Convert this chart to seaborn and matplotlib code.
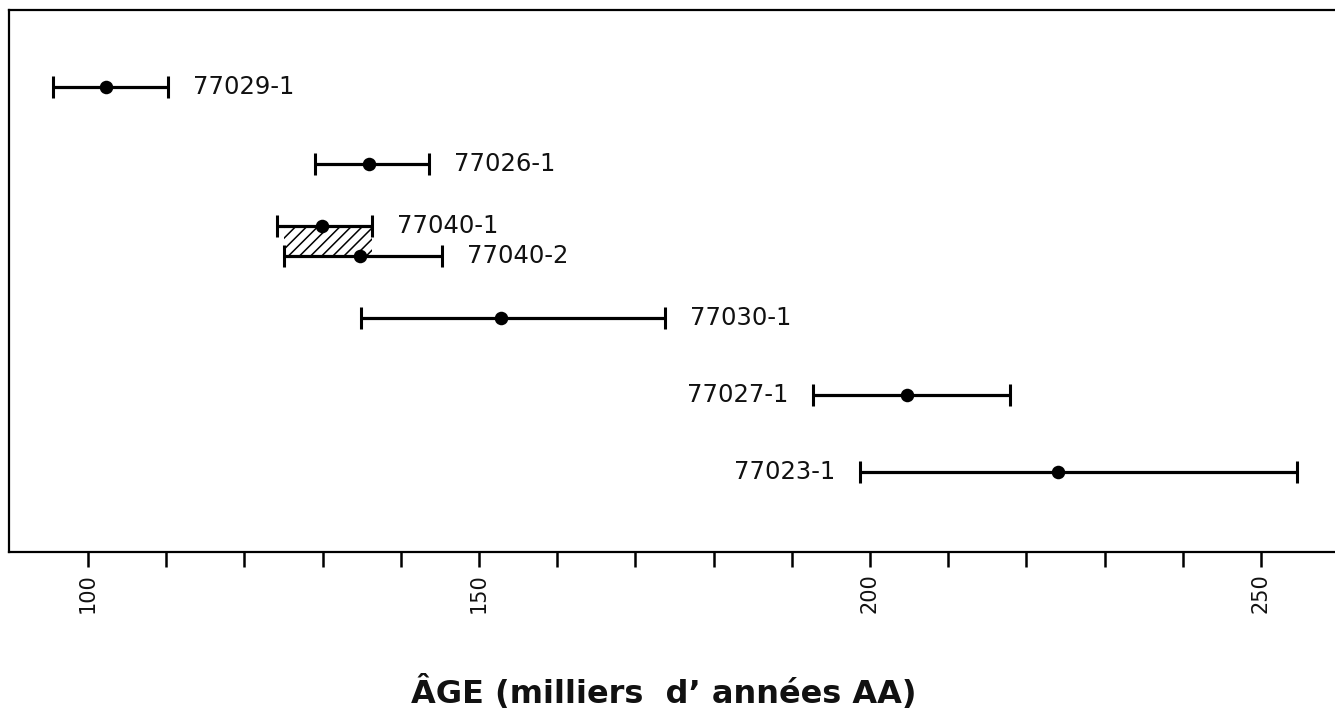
import matplotlib
matplotlib.use("Agg")
import matplotlib.pyplot as plt
import seaborn as sns
import pandas as pd

# ---- data ----
samples = ["77029-1", "77026-1", "77040-1", "77040-2", "77030-1", "77027-1", "77023-1"]
age_center = [102.3, 135.9, 129.9, 134.8, 152.8, 204.7, 224.0]
age_low = [95.5, 129.0, 124.2, 125.1, 134.9, 192.7, 198.7]
age_high = [110.2, 143.6, 136.3, 145.3, 173.8, 217.9, 254.6]
row = [0.0, 1.0, 1.8, 2.2, 3.0, 4.0, 5.0]
label_side = ["right", "right", "right", "right", "right", "left", "left"]
tick_values = list(range(100, 251, 10))
tick_labels = [str(v) if v % 50 == 0 else "" for v in tick_values]
xlabel = "ÂGE (milliers  d’ années AA)"

df = pd.DataFrame({"sample": samples, "center": age_center, "low": age_low,
                   "high": age_high, "row": row, "side": label_side})

sns.set_theme(style="white")
plt.rcParams["font.family"] = ["DejaVu Sans"]
plt.rcParams["hatch.linewidth"] = 1.1

fig = plt.figure(figsize=(13.35, 7.09), dpi=100)
W, H = 1335, 709
left_px, right_px, top_px, bot_px = 9, 1345, 10, 552
ax = fig.add_axes([left_px / W, (H - bot_px) / H, (right_px - left_px) / W, (bot_px - top_px) / H])

# error bars
for _, r in df.iterrows():
    ax.errorbar([r.center], [r.row], xerr=[[r.center - r.low], [r.high - r.center]],
                fmt="none", ecolor="black", elinewidth=2.3, capsize=8, capthick=2.2, zorder=2)

sns.scatterplot(data=df, x="center", y="row", color="black", s=95, edgecolor="black",
                linewidth=0, ax=ax, zorder=3, legend=False)

# hatched overlap of the two 77040 samples
i1, i2 = samples.index("77040-1"), samples.index("77040-2")
ov_lo = max(age_low[i1], age_low[i2])
ov_hi = min(age_high[i1], age_high[i2])
ax.fill_between([ov_lo, ov_hi], row[i1], row[i2], facecolor="none", edgecolor="black",
                hatch="///", linewidth=0, zorder=1)

# labels
for _, r in df.iterrows():
    if r.side == "right":
        ax.annotate(r["sample"], (r.high, r.row), xytext=(18, 0), textcoords="offset points",
                    ha="left", va="center", fontsize=17.5, color="#111111")
    else:
        ax.annotate(r["sample"], (r.low, r.row), xytext=(-18, 0), textcoords="offset points",
                    ha="right", va="center", fontsize=17.5, color="#111111")

# axes
x0 = 100 - (88 - left_px) / 7.82
x1 = 250 + (right_px - 1261) / 7.82
ax.set_xlim(x0, x1)
ax.set_ylim(6.04, -1.0)
ax.set_yticks([])
ax.set_xticks(tick_values)
ax.set_xticklabels(tick_labels, rotation=90, fontsize=15)
ax.tick_params(axis="x", direction="out", length=11, width=1.8, color="black", pad=4,
               bottom=True, labelcolor="#111111")
for s in ["left", "top", "bottom"]:
    ax.spines[s].set_visible(True)
    ax.spines[s].set_color("black")
    ax.spines[s].set_linewidth(1.6)
ax.spines["right"].set_visible(False)
ax.set_xlabel("")
ax.set_ylabel("")

fig.text(664 / W, 1 - 693 / H, xlabel, ha="center", va="center", fontsize=23,
         fontweight="bold", color="#111111")

fig.savefig("out.png", dpi=100)
